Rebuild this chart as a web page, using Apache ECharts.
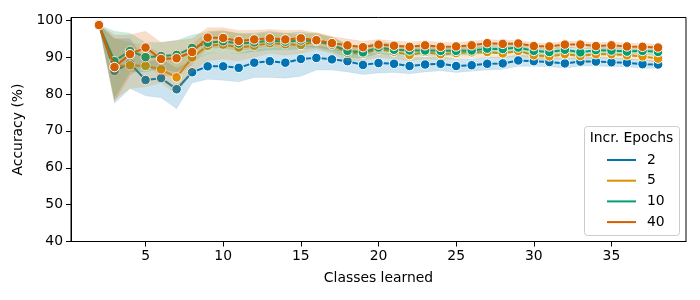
<!DOCTYPE html>
<html><head><meta charset="utf-8">
<script src="https://cdn.jsdelivr.net/npm/echarts@6/dist/echarts.min.js"></script>
<style>html,body{margin:0;padding:0;background:#fff}#c{width:700px;height:300px}</style>
</head><body><div id="c"></div>
<script>
const classes = [2,3,4,5,6,7,8,9,10,11,12,13,14,15,16,17,18,19,20,21,22,23,24,25,26,27,28,29,30,31,32,33,34,35,36,37,38];
const seriesNames = ['2','5','10','40'];
const colors = ['#0173b2','#de8f05','#029e73','#d55e00'];
const xTicks = [5,10,15,20,25,30,35];
const yTicks = [40,50,60,70,80,90,100];

const acc2  = [98.7,86.3,88.3,83.8,84.3,81.3,85.9,87.5,87.5,87.1,88.5,88.9,88.5,89.5,89.8,89.4,88.9,87.9,88.4,88.2,87.6,88.0,88.2,87.6,87.8,88.2,88.3,89.1,88.9,88.7,88.3,88.8,88.8,88.6,88.5,88.1,88.0];
const acc5  = [98.7,87.5,87.8,87.6,86.7,84.5,89.9,93.1,93.4,92.6,93.1,93.8,93.5,93.3,94.3,93.3,91.2,90.9,92.1,91.5,90.6,91.4,90.8,91.1,91.3,91.4,91.0,91.7,90.5,90.2,90.8,90.3,90.8,90.8,90.5,90.2,89.6];
const acc10 = [98.7,88.9,91.7,90.0,90.3,90.6,92.5,93.9,94.3,93.7,94.0,94.5,94.2,94.5,94.4,93.4,91.7,91.3,92.6,92.0,91.8,91.8,91.7,91.7,91.8,92.3,92.2,92.6,91.7,91.4,92.0,91.3,91.9,91.8,91.5,91.7,91.4];
const acc40 = [98.7,87.3,90.8,92.6,89.5,89.7,91.4,95.3,95.2,94.4,94.8,95.1,94.8,95.1,94.6,93.8,93.2,92.7,93.4,93.1,92.8,93.2,92.8,92.9,93.2,93.8,93.6,93.7,93.0,92.9,93.4,93.4,93.0,93.2,92.9,92.8,92.6];

const lo2  = [98.7,77.5,81.5,79.5,79.0,76.0,83.0,84.0,83.7,83.3,84.5,84.5,84.3,84.8,86.5,86.5,86.0,85.3,85.7,85.8,85.5,86.0,86.3,85.8,86.2,86.5,86.7,87.5,87.5,87.4,87.0,87.6,87.6,87.4,87.4,87.0,87.0];
const hi2  = [98.7,95.0,95.0,88.5,89.5,87.0,89.0,91.0,91.3,91.0,92.0,92.5,92.3,93.0,93.0,92.5,92.0,91.0,91.2,90.7,90.0,90.0,90.2,89.5,89.5,90.0,90.0,90.6,90.3,90.0,89.6,90.0,90.0,89.8,89.6,89.2,89.0];
const lo5  = [98.7,78.5,81.5,82.0,83.0,80.0,86.0,89.0,89.5,89.0,90.0,91.0,90.5,91.0,92.0,91.0,89.0,89.0,90.0,89.5,89.0,89.5,89.2,89.6,89.8,90.0,89.7,90.4,89.4,89.2,89.7,89.3,89.7,89.7,89.4,89.2,88.5];
const hi5  = [98.7,95.0,94.0,93.0,91.0,89.0,93.5,97.0,97.3,96.3,96.2,96.6,96.5,96.0,96.6,95.5,93.4,92.8,94.2,93.5,92.2,93.3,92.4,92.6,92.8,92.8,92.3,93.0,91.6,91.2,91.9,91.3,91.9,91.9,91.6,91.2,90.7];
const lo10 = [98.7,79.0,86.0,86.0,87.0,86.0,89.0,91.0,91.5,91.0,91.5,92.0,92.0,92.2,92.5,91.5,90.0,89.8,91.0,90.5,90.5,90.5,90.4,90.5,90.6,91.1,91.0,91.5,90.6,90.4,91.0,90.3,90.9,90.8,90.5,90.7,90.4];
const hi10 = [98.7,97.0,96.5,94.0,94.0,94.5,96.0,96.8,97.0,96.5,96.5,97.0,96.5,96.8,96.3,95.3,93.5,92.9,94.2,93.5,93.1,93.1,93.0,92.9,93.0,93.5,93.4,93.7,92.8,92.4,93.0,92.3,92.9,92.8,92.5,92.7,92.4];
const lo40 = [98.7,78.0,85.0,88.0,85.0,85.0,88.0,92.5,92.5,91.8,92.3,92.8,92.5,93.0,92.8,92.0,91.5,91.2,92.0,91.8,91.5,92.0,91.6,91.8,92.1,92.8,92.6,92.8,92.1,92.0,92.5,92.5,92.1,92.3,92.0,91.9,91.7];
const hi40 = [98.7,96.0,96.0,97.0,94.0,94.5,95.0,98.0,98.0,97.2,97.3,97.5,97.2,97.3,96.6,95.6,94.9,94.3,94.8,94.4,94.1,94.4,94.0,94.0,94.3,94.8,94.6,94.6,93.9,93.8,94.3,94.3,93.9,94.1,93.8,93.7,93.5];

const means = [acc2, acc5, acc10, acc40];
const lows = [lo2, lo5, lo10, lo40];
const highs = [hi2, hi5, hi10, hi40];

const FONT = 'DejaVu Sans';
const FS = 13.9;

function hexA(hex, a){
  const r=parseInt(hex.slice(1,3),16), g=parseInt(hex.slice(3,5),16), b=parseInt(hex.slice(5,7),16);
  return `rgba(${r},${g},${b},${a})`;
}

const series = [];
seriesNames.forEach((name, i) => {
  series.push({
    name: 'band_' + name, type: 'custom', silent: true, clip: true, z: 1 + i * 2,
    data: classes.map((x, k) => [x, lows[i][k], highs[i][k]]),
    encode: {x: 0, y: [1, 2]},
    renderItem: function (params, api) {
      if (params.dataIndex !== 0) return null;
      const pts = [];
      for (let k = 0; k < classes.length; k++) pts.push(api.coord([classes[k], highs[i][k]]));
      for (let k = classes.length - 1; k >= 0; k--) pts.push(api.coord([classes[k], lows[i][k]]));
      return {type: 'polygon', shape: {points: pts},
              style: {fill: hexA(colors[i], 0.2), stroke: hexA(colors[i], 0.15), lineWidth: 0.5}};
    }
  });
  series.push({
    name: name, type: 'line',
    data: classes.map((x, k) => [x, means[i][k]]),
    color: colors[i],
    symbol: 'circle', symbolSize: 9.5,
    lineStyle: {color: colors[i], width: 2},
    itemStyle: {color: colors[i], borderColor: '#fff', borderWidth: 1},
    z: 2 + i * 2
  });
});

const chart = echarts.init(document.getElementById('c'), null, {renderer: 'canvas'});
chart.setOption({
  animation: false,
  backgroundColor: '#fff',
  textStyle: {fontFamily: FONT},
  grid: {left: 71, right: 14, top: 17.5, bottom: 58.5, show: true, borderColor: '#000', borderWidth: 1, backgroundColor: 'transparent'},
  xAxis: {
    type: 'value', min: 0.2, max: 39.8,
    name: 'Classes learned', nameLocation: 'middle', nameGap: 30,
    nameTextStyle: {fontFamily: FONT, fontSize: FS, color: '#000'},
    axisLine: {show: true, lineStyle: {color: '#000', width: 1}},
    axisTick: {show: true, length: 5, lineStyle: {color: '#000'}, customValues: xTicks},
    axisLabel: {color: '#000', fontFamily: FONT, fontSize: FS, margin: 8, customValues: xTicks},
    splitLine: {show: false}
  },
  yAxis: {
    type: 'value', min: 40, max: 100.75,
    name: 'Accuracy (%)', nameLocation: 'middle', nameGap: 32, nameRotate: 90,
    nameTextStyle: {fontFamily: FONT, fontSize: FS, color: '#000'},
    axisLine: {show: true, lineStyle: {color: '#000', width: 1}},
    axisTick: {show: true, length: 5, lineStyle: {color: '#000'}, customValues: yTicks},
    axisLabel: {color: '#000', fontFamily: FONT, fontSize: FS, margin: 8, customValues: yTicks},
    splitLine: {show: false}
  },
  legend: {
    data: seriesNames.map(n => ({name: n, icon: 'rect'})),
    orient: 'vertical', left: 602, top: 147,
    itemWidth: 29, itemHeight: 2, itemGap: 4.7,
    itemStyle: {borderWidth: 0},
    textStyle: {fontFamily: FONT, fontSize: FS, color: '#000', lineHeight: 16, padding: [0,0,0,6]},
    selectedMode: false, z: 10
  },
  graphic: [
    {type: 'rect', left: 584, top: 126, z: 9,
     shape: {width: 95, height: 109, r: 3},
     style: {fill: 'rgba(255,255,255,0.8)', stroke: '#cccccc', lineWidth: 1}},
    {type: 'text', z: 10, x: 631.5, y: 138,
     style: {text: 'Incr. Epochs', font: FS + 'px "' + FONT + '"', fill: '#000', align: 'center', verticalAlign: 'middle'}}
  ],
  series: series
});
</script>
</body></html>
